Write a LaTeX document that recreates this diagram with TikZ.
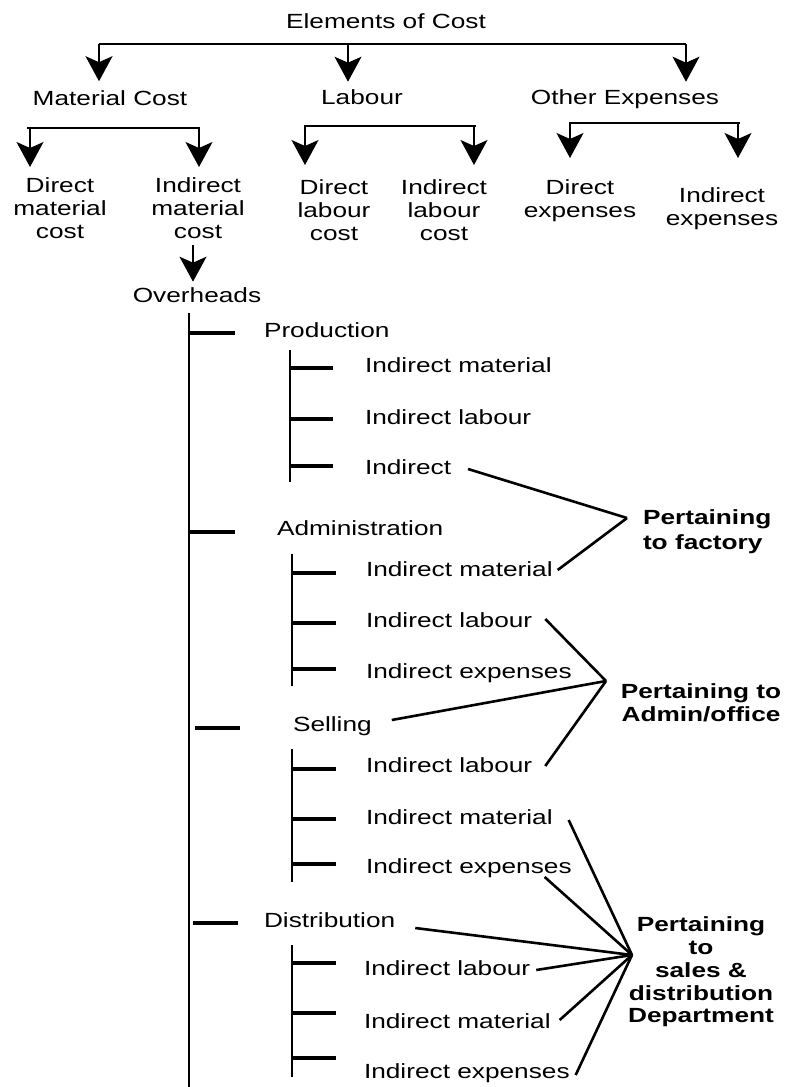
\documentclass[tikz,border=0pt]{standalone}
\usepackage{fontspec}
\setmainfont{Liberation Sans}[FakeStretch=1.28]
\usetikzlibrary{arrows.meta,calc}

\begin{document}
\begin{tikzpicture}[x=1pt,y=-1pt,
  every node/.style={inner sep=0pt,outer sep=0pt},
  txt/.style={font=\fontsize{20.5}{22.6}\selectfont, text height=14.6pt, text depth=0pt},
  ml/.style={font=\fontsize{20.5}{22.6}\selectfont, align=center, anchor=north},
  item/.style={txt, anchor=west},
  lbl/.style={font=\bfseries\fontsize{20.5}{23}\selectfont},
  bus/.style={line width=2.6pt},
  subbus/.style={line width=2.3pt},
  stem/.style={line width=1.5pt, -{Stealth[length=25pt,width=27pt,inset=6pt]}},
  trunk/.style={line width=1.8pt},
  tick/.style={line width=3.5pt},
  link/.style={line width=2.6pt}
]
\useasboundingbox (0,0) rectangle (789,1087);

% ---- top level: elements of cost ----
\node[txt] (title) at (386,21) {Elements of Cost};
\coordinate (b1) at (99,44);
\coordinate (b2) at (348,44);
\coordinate (b3) at (686,44);
\draw[bus] (b1) -- (b3);

\node[txt] (mat) at (110,98.5) {Material Cost};
\node[txt] (lab) at (362,97) {Labour};
\node[txt] (oth) at (625,97) {Other Expenses};

\draw[stem, shorten >=10pt] (b1) -- (b1 |- mat.north);
\draw[stem, shorten >=8pt]  (b2) -- (b2 |- lab.north);
\draw[stem, shorten >=8pt]  (b3) -- (b3 |- oth.north);

% ---- second level ----
\node[ml] (dmc) at (60,178)  {Direct\\material\\cost};
\node[ml] (imc) at (198,178) {Indirect\\material\\cost};
\node[ml] (dlc) at (334,180) {Direct\\labour\\cost};
\node[ml] (ilc) at (444,180) {Indirect\\labour\\cost};
\node[ml] (dex) at (580,180) {Direct\\expenses};
\node[ml] (iex) at (722,188) {Indirect\\expenses};

\coordinate (m1) at (30,128);  \coordinate (m2) at (199,128);
\coordinate (l1) at (305,126); \coordinate (l2) at (474,126);
\coordinate (o1) at (570,123); \coordinate (o2) at (738,123);
\draw[subbus] ($(m1)+(-3,0)$) -- ($(m2)+(1,0)$);
\draw[subbus] ($(l1)+(-1,0)$) -- ($(l2)+(2,0)$);
\draw[subbus] ($(o1)+(-1,0)$) -- ($(o2)+(2,0)$);

\draw[stem, shorten >=11pt] (m1) -- (m1 |- dmc.north);
\draw[stem, shorten >=11pt] (m2) -- (m2 |- imc.north);
\draw[stem, shorten >=15pt] (l1) -- (l1 |- dlc.north);
\draw[stem, shorten >=15pt] (l2) -- (l2 |- ilc.north);
\draw[stem, shorten >=22pt] (o1) -- (o1 |- dex.north);
\draw[stem, shorten >=30pt] (o2) -- (o2 |- iex.north);

% ---- overheads ----
\node[txt] (ovh) at (197,295) {Overheads};
\draw[stem] ($(imc.south)+(-5,7)$) -- ($(ovh.north)+(-4,-6)$);

\coordinate (tt) at (189,313);
\coordinate (tb) at (189,1087);
\draw[trunk] (tt) -- (tb);

% production
\node[item] (prod) at (264,330) {Production};
\draw[tick] (189,333) -- (235,333);
\draw[trunk] (290,350) -- (290,482);
\foreach \y in {368,419,466} \draw[tick] (290,\y) -- (333,\y);
\node[item] (pa) at (365,365) {Indirect material};
\node[item] (pb) at (365,417) {Indirect labour};
\node[item] (pc) at (365,467) {Indirect};

% administration
\node[item] (adm) at (277,528) {Administration};
\draw[tick] (189,532) -- (235,532);
\draw[trunk] (292,554) -- (292,686);
\foreach \y in {573,623,669} \draw[tick] (292,\y) -- (336,\y);
\node[item] (aa) at (366,569) {Indirect material};
\node[item] (ab) at (366,620) {Indirect labour};
\node[item] (ac) at (366,671) {Indirect expenses};

% selling
\node[item] (sel) at (293,724) {Selling};
\draw[tick] (195,728) -- (240,728);
\draw[trunk] (292,749) -- (292,882);
\foreach \y in {769,819,864} \draw[tick] (292,\y) -- (336,\y);
\node[item] (sa) at (366,765) {Indirect labour};
\node[item] (sb) at (366,817) {Indirect material};
\node[item] (sc) at (366,866) {Indirect expenses};

% distribution
\node[item] (dis) at (264,920) {Distribution};
\draw[tick] (193,923) -- (238,923);
\draw[trunk] (292,945) -- (292,1077);
\foreach \y in {963,1013,1058} \draw[tick] (292,\y) -- (336,\y);
\node[item] (da) at (364,968) {Indirect labour};
\node[item] (db) at (364,1021) {Indirect material};
\node[item] (dc) at (364,1071) {Indirect expenses};

% ---- grouping labels ----
\node[lbl, font=\bfseries\fontsize{20.5}{25}\selectfont, align=left, anchor=north west] (pf) at (643,510) {Pertaining\\to factory};
\node[lbl, align=center, anchor=north] (po) at (701,684) {Pertaining to\\Admin/office};
\node[lbl, font=\bfseries\fontsize{20.5}{22.75}\selectfont, align=center, anchor=north] (ps) at (701,917) {Pertaining\\to\\sales \&\\distribution\\Department};

\coordinate (jf) at (627,518);
\coordinate (ja) at (606,681);
\coordinate (js) at (632,955);

\draw[link] ($(pc.east)+(17,2)$) -- (jf);
\draw[link] ($(aa.east)+(5,1)$) -- (jf);

\draw[link] ($(ab.east)+(13,-1)$) -- (ja);
\draw[link] ($(sel.east)+(20,-4)$) -- (ja);
\draw[link] ($(sa.east)+(13,1)$) -- (ja);

\draw[link] ($(sb.east)+(16,3)$) -- (js);
\draw[link] ($(sc.east)+(-27,11)$) -- (js);
\draw[link] ($(dis.east)+(20,8)$) -- (js);
\draw[link] ($(da.east)+(6,2)$) -- (js);
\draw[link] ($(db.east)+(9,-1)$) -- (js);
\draw[link] ($(dc.east)+(6,4)$) -- (js);
\end{tikzpicture}
\end{document}
